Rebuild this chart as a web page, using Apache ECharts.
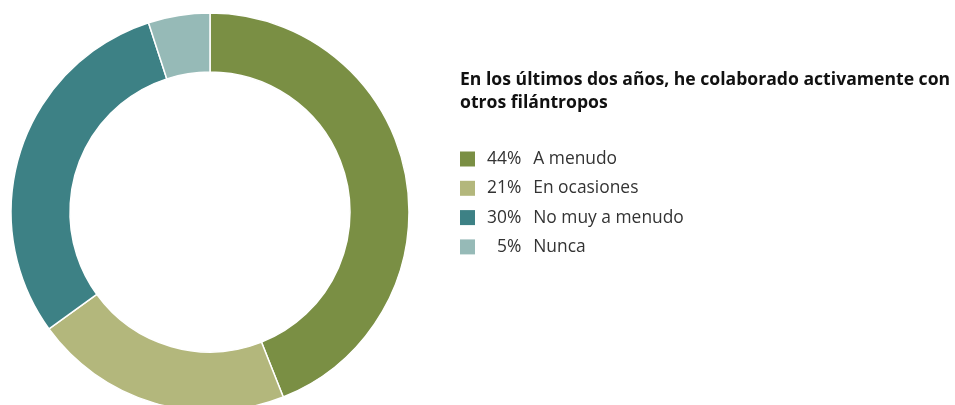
<!DOCTYPE html>
<html>
<head>
<meta charset="utf-8">
<script src="https://cdn.jsdelivr.net/npm/echarts@6/dist/echarts.min.js"></script>
<style>
  html, body { margin: 0; padding: 0; background: #fff; }
  #chart { width: 955px; height: 405px; }
</style>
</head>
<body>
<div id="chart"></div>
<script>
const title = 'En los últimos dos años, he colaborado activamente con\notros filántropos';
const categories = ['A menudo', 'En ocasiones', 'No muy a menudo', 'Nunca'];
const values = [44, 21, 30, 5];
const colors = ['#7a8f44', '#b3b77c', '#3d8185', '#96bab7'];

const chart = echarts.init(document.getElementById('chart'));

// pad single digits with a figure space so the percentages line up on the right
const pct = (v) => (v < 10 ? '\u2007' : '') + v + '%';

const option = {
  animation: false,
  color: colors,
  title: {
    text: title,
    left: 455,
    top: 63,
    textStyle: {
      fontFamily: 'Open Sans',
      fontSize: 17.6,
      fontWeight: 'bold',
      color: '#111',
      lineHeight: 23,
    },
  },
  legend: {
    orient: 'vertical',
    left: 455,
    top: 144,
    icon: 'rect',
    itemWidth: 15,
    itemHeight: 15,
    itemGap: 9.3,
    selectedMode: false,
    itemStyle: { borderWidth: 0 },
    data: categories,
    formatter: (name) => {
      const i = categories.indexOf(name);
      return '{p|' + pct(values[i]) + '}{n|' + name + '}';
    },
    textStyle: {
      fontFamily: 'Open Sans',
      fontSize: 17.4,
      lineHeight: 20,
      color: '#333',
      rich: {
        p: { padding: [0, 0, 0, 7], fontSize: 17.4, lineHeight: 20, fontFamily: 'Open Sans', color: '#333' },
        n: { padding: [0, 0, 0, 12], fontSize: 17.4, lineHeight: 20, fontFamily: 'Open Sans', color: '#333' },
      },
    },
  },
  series: [
    {
      type: 'pie',
      center: [210, 212],
      radius: [140, 199],
      startAngle: 90,
      clockwise: true,
      label: { show: false },
      labelLine: { show: false },
      emphasis: { disabled: true },
      itemStyle: { borderColor: '#fff', borderWidth: 1.5 },
      data: categories.map((c, i) => ({ name: c, value: values[i] })),
    },
  ],
};

chart.setOption(option);
</script>
</body>
</html>
